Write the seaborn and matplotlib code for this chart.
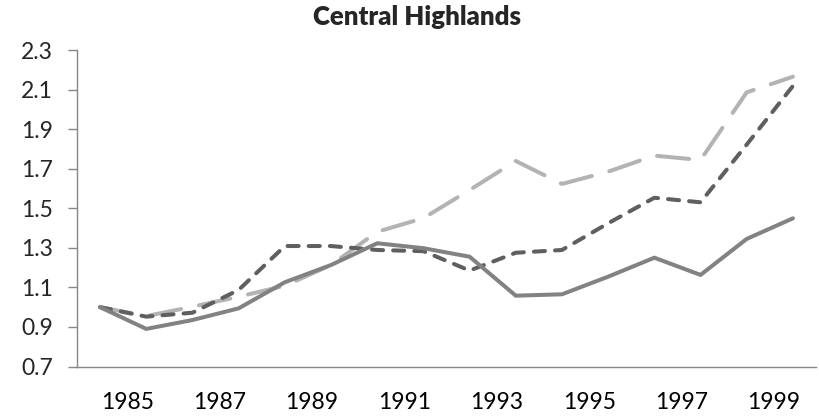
import numpy as np
import pandas as pd
import matplotlib
matplotlib.use("Agg")
import matplotlib.pyplot as plt
import seaborn as sns

# Values
years = list(range(1984, 2000))
solid_series = [1.00, 0.89, 0.935, 0.994, 1.126, 1.213, 1.323, 1.298,
                1.255, 1.058, 1.065, 1.154, 1.250, 1.163, 1.345, 1.449]
short_dash_series = [1.00, 0.952, 0.972, 1.087, 1.309, 1.309, 1.289, 1.283,
                     1.185, 1.275, 1.289, 1.424, 1.553, 1.530, 1.822, 2.118]
long_dash_series = [1.00, 0.955, 1.002, 1.053, 1.108, 1.213, 1.381, 1.450,
                    1.592, 1.739, 1.623, 1.685, 1.766, 1.744, 2.086, 2.165]
y_ticks = [0.7, 0.9, 1.1, 1.3, 1.5, 1.7, 1.9, 2.1, 2.3]
x_labels = [str(y) for y in years if y % 2 == 1]

df = pd.DataFrame({
    'idx': np.arange(len(years)),
    'solid': solid_series,
    'short': short_dash_series,
    'long': long_dash_series,
})

sns.set_style("white")
plt.rcParams['font.family'] = ['Lato', 'DejaVu Sans']

fig = plt.figure(figsize=(8.19, 4.19), dpi=100)
ax = fig.add_axes([77 / 819, 1 - 366.5 / 419, (816 - 77) / 819, (366.5 - 50) / 419])

lw = 2.9
styles = [
    ('long', '#b3b3b3', (0, (8, 4.5))),
    ('short', '#5f5f5f', (0, (2.75, 2.5))),
    ('solid', '#828282', '-'),
]
for col, color, ls in styles:
    sns.lineplot(data=df, x='idx', y=col, ax=ax, color=color, linewidth=lw)
    line = ax.lines[-1]
    line.set_linestyle(ls)
    line.set_dash_capstyle('round')
    line.set_solid_capstyle('round')
    line.set_solid_joinstyle('miter')

# Excel-like category axis: ticks between categories
n = len(years)
ax.set_xlim(-0.5, n - 0.5)
ax.set_xticks(np.arange(-0.5, n, 1.0), minor=True)
label_pos = [years.index(int(l)) - 0.41 for l in x_labels]
ax.set_xticks(label_pos)
ax.set_xticklabels(x_labels)
ax.tick_params(axis='x', which='major', length=0, pad=18, labelsize=16.5, colors='black')
ax.tick_params(axis='x', which='minor', length=6.5, width=1.0, color='#868686', direction='out')

ax.set_ylim(0.7, 2.3)
ax.set_yticks(y_ticks)
ax.set_yticklabels([f"{v:.1f}" for v in y_ticks])
ax.tick_params(axis='y', length=6.5, width=1.0, color='#868686', direction='out',
               pad=11, labelsize=16.5, left=True)

ax.set_xlabel('')
ax.set_ylabel('')
for side in ['top', 'right']:
    ax.spines[side].set_visible(False)
for side in ['left', 'bottom']:
    ax.spines[side].set_color('#868686')
    ax.spines[side].set_linewidth(1.0)

fig.text(417 / 819, 1 - 17 / 419, 'Central Highlands', ha='center', va='center',
         fontsize=18.5, fontweight='heavy')

fig.savefig('out.png', dpi=100)
